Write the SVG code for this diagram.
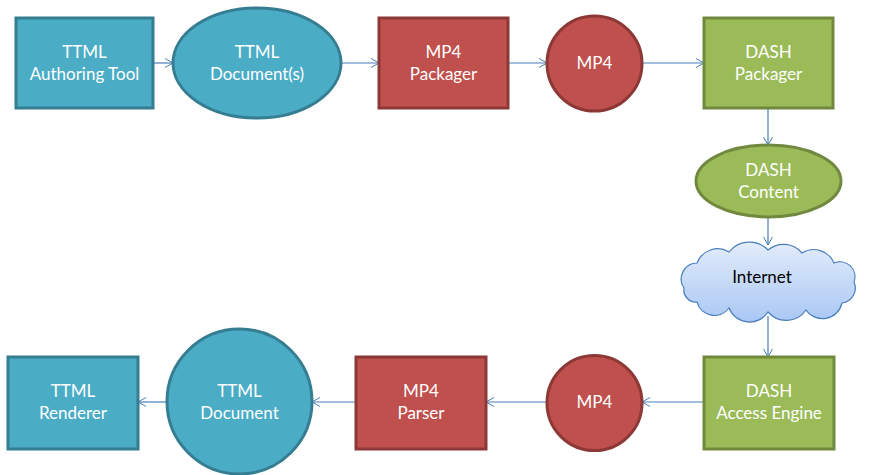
<svg xmlns="http://www.w3.org/2000/svg" width="870" height="475" viewBox="0 0 870 475">
<defs>
<marker id="arr" viewBox="0 0 10 10" refX="9" refY="5" markerWidth="10" markerHeight="10" markerUnits="userSpaceOnUse" orient="auto">
<path d="M1,0.5 L9,5 L1,9.5" fill="none" stroke="#4A7EBB" stroke-width="1"/>
</marker>
<linearGradient id="cloudg" x1="0" y1="0" x2="0" y2="1">
<stop offset="0" stop-color="#E3ECFA"/>
<stop offset="1" stop-color="#A9C7F5"/>
</linearGradient>
</defs>
<style>
.t{fill:#4BACC6;stroke:#357D91;stroke-width:3}
.r{fill:#C0504D;stroke:#8C3836;stroke-width:3}
.g{fill:#9BBB59;stroke:#71893F;stroke-width:3}
text{font-family:Lato,"Liberation Sans",sans-serif;font-size:17px;fill:#FFFFFF;text-anchor:middle}
.dark{fill:#000000}
.c{fill:none;stroke:#4A7EBB;stroke-width:1.2;marker-end:url(#arr)}
</style>
<rect width="870" height="475" fill="#FFFFFF"/>
<g id="connectors">
<line class="c" x1="153" y1="63" x2="173" y2="63"/>
<line class="c" x1="341" y1="63" x2="379" y2="63"/>
<line class="c" x1="508" y1="63" x2="547" y2="63"/>
<line class="c" x1="642" y1="63" x2="704" y2="63"/>
<line class="c" x1="768" y1="108" x2="768" y2="145"/>
<line class="c" x1="768" y1="217" x2="768" y2="245"/>
<line class="c" x1="768" y1="316" x2="768" y2="357"/>
<line class="c" x1="704" y1="402" x2="642" y2="402"/>
<line class="c" x1="547" y1="402" x2="486" y2="402"/>
<line class="c" x1="356" y1="402" x2="312" y2="402"/>
<line class="c" x1="167" y1="402" x2="138" y2="402"/>
</g>
<g id="ttml-authoring-tool">
<rect class="t" x="16" y="18" width="137" height="90"/>
<text x="84.5" y="58">TTML</text>
<text x="84.5" y="80">Authoring Tool</text>
</g>
<g id="ttml-documents">
<ellipse class="t" cx="257" cy="63" rx="84" ry="55"/>
<text x="257" y="58">TTML</text>
<text x="257" y="80">Document(s)</text>
</g>
<g id="mp4-packager">
<rect class="r" x="379" y="18" width="129" height="90"/>
<text x="443.5" y="58">MP4</text>
<text x="443.5" y="80">Packager</text>
</g>
<g id="mp4-top">
<circle class="r" cx="594.5" cy="63.5" r="47.5"/>
<text x="594.5" y="69">MP4</text>
</g>
<g id="dash-packager">
<rect class="g" x="704" y="18" width="129" height="90"/>
<text x="768.5" y="58">DASH</text>
<text x="768.5" y="80">Packager</text>
</g>
<g id="dash-content">
<ellipse class="g" cx="768.5" cy="181" rx="72.5" ry="36"/>
<text x="768.5" y="176">DASH</text>
<text x="768.5" y="198">Content</text>
</g>
<g id="internet">
<path d="M684,288 A16,16 0 0 1 697,263 A22,22 0 0 1 729,252 A26,26 0 0 1 768,250 A24,24 0 0 1 802,253 A22,22 0 0 1 834,263 A15,15 0 0 1 854,282 A15,15 0 0 1 842,303 A20,20 0 0 1 806,310 A24,24 0 0 1 768,312 A22,22 0 0 1 729,308 A18,18 0 0 1 697,302 A12,12 0 0 1 684,288 Z" fill="url(#cloudg)" stroke="#4A7EBB" stroke-width="1.2"/>
<text class="dark" x="762" y="283">Internet</text>
</g>
<g id="dash-access-engine">
<rect class="g" x="704" y="357" width="130" height="92"/>
<text x="769" y="397">DASH</text>
<text x="769" y="419">Access Engine</text>
</g>
<g id="mp4-bottom">
<circle class="r" cx="594.5" cy="403" r="47.5"/>
<text x="594.5" y="408">MP4</text>
</g>
<g id="mp4-parser">
<rect class="r" x="356" y="357" width="130" height="92"/>
<text x="421" y="397">MP4</text>
<text x="421" y="419">Parser</text>
</g>
<g id="ttml-document">
<circle class="t" cx="239.5" cy="401.5" r="72.5"/>
<text x="239.5" y="397">TTML</text>
<text x="239.5" y="419">Document</text>
</g>
<g id="ttml-renderer">
<rect class="t" x="8" y="357" width="130" height="92"/>
<text x="73" y="397">TTML</text>
<text x="73" y="419">Renderer</text>
</g>
</svg>
